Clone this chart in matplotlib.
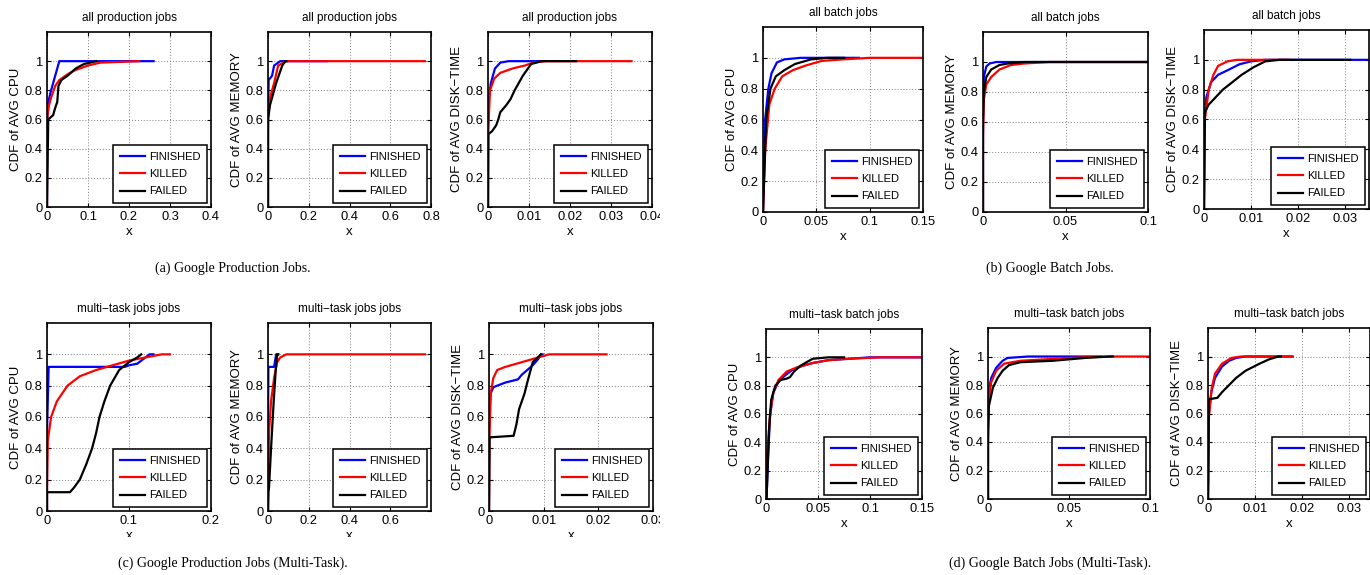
import matplotlib
matplotlib.use("Agg")
import matplotlib.pyplot as plt
from matplotlib.transforms import Bbox, TransformedBbox

plt.rcParams["font.family"] = ["Liberation Sans", "DejaVu Sans"]

W, H = 1370, 575

# ---------- data ----------
status_labels = ["FINISHED", "KILLED", "FAILED"]
status_colors = ["#0000ff", "#ff0000", "#000000"]

titles = ["all production jobs"] * 3 + ["all batch jobs"] * 3 + \
         ["multi\u2212task jobs jobs"] * 3 + ["multi\u2212task batch jobs"] * 3
ylabels = ["CDF of AVG CPU", "CDF of AVG MEMORY", "CDF of AVG DISK\u2212TIME"] * 4
xlims = [0.4, 0.8, 0.04, 0.15, 0.1, 0.035, 0.2, 0.8, 0.03, 0.15, 0.1, 0.0345]
xticks = [
    [0, 0.1, 0.2, 0.3, 0.4], [0, 0.2, 0.4, 0.6, 0.8], [0, 0.01, 0.02, 0.03, 0.04],
    [0, 0.05, 0.1, 0.15], [0, 0.05, 0.1], [0, 0.01, 0.02, 0.03],
    [0, 0.1, 0.2], [0, 0.2, 0.4, 0.6], [0, 0.01, 0.02, 0.03],
    [0, 0.05, 0.1, 0.15], [0, 0.05, 0.1], [0, 0.01, 0.02, 0.03],
]
captions = ["(a) Google Production Jobs.", "(b) Google Batch Jobs.",
            "(c) Google Production Jobs (Multi-Task).", "(d) Google Batch Jobs (Multi-Task)."]

# production, all jobs
prod_cpu_fin_x = [0, 0, 0.002, 0.008, 0.015, 0.02, 0.03, 0.26]
prod_cpu_fin_y = [0, 0.5, 0.7, 0.78, 0.85, 0.9, 1.0, 1.0]
prod_cpu_kil_x = [0, 0, 0.005, 0.01, 0.02, 0.03, 0.05, 0.07, 0.1, 0.13, 0.225]
prod_cpu_kil_y = [0, 0.6, 0.7, 0.75, 0.83, 0.87, 0.91, 0.94, 0.97, 0.99, 1.0]
prod_cpu_fail_x = [0, 0.003, 0.015, 0.02, 0.025, 0.028, 0.035, 0.05, 0.07, 0.09, 0.12]
prod_cpu_fail_y = [0, 0.6, 0.63, 0.68, 0.72, 0.83, 0.87, 0.9, 0.95, 0.98, 1.0]

prod_mem_fin_x = [0, 0, 0.003, 0.02, 0.03, 0.06, 0.29]
prod_mem_fin_y = [0, 0.5, 0.87, 0.9, 0.97, 1.0, 1.0]
prod_mem_kil_x = [0, 0, 0.01, 0.03, 0.05, 0.09, 0.77]
prod_mem_kil_y = [0, 0.65, 0.75, 0.85, 0.97, 1.0, 1.0]
prod_mem_fail_x = [0, 0, 0.01, 0.04, 0.07, 0.085, 0.09]
prod_mem_fail_y = [0, 0.6, 0.7, 0.85, 0.97, 1.0, 1.0]

prod_disk_fin_x = [0, 0, 0.0002, 0.0007, 0.0017, 0.003, 0.005, 0.013]
prod_disk_fin_y = [0, 0.5, 0.75, 0.85, 0.95, 0.99, 1, 1]
prod_disk_kil_x = [0, 0, 0.0005, 0.0015, 0.003, 0.006, 0.009, 0.011, 0.014, 0.035]
prod_disk_kil_y = [0, 0.5, 0.8, 0.88, 0.92, 0.95, 0.97, 0.99, 1, 1]
prod_disk_fail_x = [0, 0.0001, 0.001, 0.002, 0.0025, 0.003, 0.0045, 0.0055, 0.0065, 0.0085, 0.0105, 0.013, 0.0215]
prod_disk_fail_y = [0, 0.5, 0.52, 0.56, 0.6, 0.65, 0.7, 0.74, 0.8, 0.9, 0.98, 1, 1]

# batch, all jobs
batch_cpu_fin_x = [0, 0.002, 0.005, 0.008, 0.013, 0.02, 0.035, 0.09]
batch_cpu_fin_y = [0, 0.6, 0.8, 0.9, 0.97, 0.99, 1, 1]
batch_cpu_kil_x = [0, 0.002, 0.006, 0.011, 0.018, 0.028, 0.04, 0.055, 0.075, 0.1, 0.15]
batch_cpu_kil_y = [0, 0.4, 0.7, 0.8, 0.88, 0.92, 0.95, 0.98, 0.99, 1, 1]
batch_cpu_fail_x = [0, 0.003, 0.007, 0.012, 0.02, 0.03, 0.045, 0.06, 0.076]
batch_cpu_fail_y = [0, 0.6, 0.8, 0.88, 0.92, 0.96, 0.99, 1, 1]

batch_mem_fin_x = [0, 0, 0.0005, 0.002, 0.004, 0.008, 0.1]
batch_mem_fin_y = [0, 0.6, 0.9, 0.97, 0.99, 1, 1]
batch_mem_kil_x = [0, 0, 0.0005, 0.002, 0.005, 0.01, 0.017, 0.025, 0.04, 0.1]
batch_mem_kil_y = [0, 0.5, 0.75, 0.85, 0.9, 0.95, 0.98, 0.99, 1, 1]
batch_mem_fail_x = [0, 0, 0.0005, 0.002, 0.005, 0.01, 0.015, 0.025, 0.1]
batch_mem_fail_y = [0, 0.6, 0.8, 0.9, 0.95, 0.98, 0.99, 1, 1]

batch_disk_fin_x = [0, 0.0001, 0.0005, 0.0015, 0.003, 0.005, 0.0075, 0.01, 0.013, 0.035]
batch_disk_fin_y = [0, 0.6, 0.75, 0.85, 0.9, 0.93, 0.97, 0.99, 1, 1]
batch_disk_kil_x = [0, 0.0001, 0.001, 0.002, 0.003, 0.005, 0.007, 0.018]
batch_disk_kil_y = [0, 0.58, 0.8, 0.9, 0.96, 0.99, 1, 1]
batch_disk_fail_x = [0, 0.0002, 0.001, 0.0025, 0.004, 0.006, 0.008, 0.0105, 0.013, 0.016, 0.031]
batch_disk_fail_y = [0, 0.65, 0.7, 0.75, 0.8, 0.85, 0.9, 0.95, 0.99, 1, 1]

# production, multi-task
mt_prod_cpu_fin_x = [0, 0, 0.002, 0.095, 0.1, 0.11, 0.115, 0.12, 0.125, 0.13]
mt_prod_cpu_fin_y = [0, 0.5, 0.92, 0.92, 0.93, 0.94, 0.96, 0.98, 1, 1]
mt_prod_cpu_kil_x = [0, 0, 0.001, 0.005, 0.012, 0.025, 0.04, 0.06, 0.08, 0.1, 0.12, 0.14, 0.15]
mt_prod_cpu_kil_y = [0, 0.12, 0.45, 0.6, 0.7, 0.8, 0.86, 0.9, 0.93, 0.96, 0.98, 1, 1]
mt_prod_cpu_fail_x = [0, 0, 0.028, 0.033, 0.04, 0.048, 0.055, 0.06, 0.064, 0.07, 0.077, 0.088, 0.1, 0.11, 0.115]
mt_prod_cpu_fail_y = [0, 0.12, 0.12, 0.15, 0.2, 0.3, 0.4, 0.5, 0.6, 0.7, 0.8, 0.9, 0.95, 0.98, 1]

mt_prod_mem_fin_x = [0, 0, 0.002, 0.03, 0.04, 0.05]
mt_prod_mem_fin_y = [0, 0.5, 0.92, 0.92, 1, 1]
mt_prod_mem_kil_x = [0, 0, 0.005, 0.015, 0.03, 0.045, 0.06, 0.09, 0.77]
mt_prod_mem_kil_y = [0, 0.1, 0.5, 0.7, 0.85, 0.95, 0.98, 1, 1]
mt_prod_mem_fail_x = [0, 0.002, 0.005, 0.015, 0.028, 0.038, 0.045, 0.05]
mt_prod_mem_fail_y = [0, 0.12, 0.15, 0.4, 0.7, 0.9, 1, 1]

mt_prod_disk_fin_x = [0, 0, 0.0003, 0.0008, 0.0015, 0.003, 0.0053, 0.006, 0.007, 0.008, 0.009, 0.0095, 0.0098]
mt_prod_disk_fin_y = [0, 0.55, 0.75, 0.79, 0.8, 0.82, 0.84, 0.87, 0.9, 0.93, 0.97, 1, 1]
mt_prod_disk_kil_x = [0, 0.0001, 0.0003, 0.0008, 0.0015, 0.003, 0.005, 0.007, 0.009, 0.011, 0.0215]
mt_prod_disk_kil_y = [0, 0.48, 0.75, 0.85, 0.9, 0.92, 0.94, 0.96, 0.98, 1, 1]
mt_prod_disk_fail_x = [0, 0.0001, 0.0045, 0.005, 0.0055, 0.0065, 0.007, 0.008, 0.0095]
mt_prod_disk_fail_y = [0, 0.47, 0.48, 0.55, 0.65, 0.75, 0.82, 0.95, 1]

# batch, multi-task
mt_batch_cpu_fin_x = [0, 0.0005, 0.002, 0.004, 0.007, 0.012, 0.018, 0.025, 0.035, 0.045, 0.06, 0.08, 0.1, 0.15]
mt_batch_cpu_fin_y = [0, 0, 0.3, 0.6, 0.75, 0.83, 0.87, 0.91, 0.94, 0.96, 0.98, 0.99, 1, 1]
mt_batch_cpu_kil_x = [0, 0.001, 0.004, 0.007, 0.012, 0.02, 0.03, 0.045, 0.06, 0.08, 0.11, 0.15]
mt_batch_cpu_kil_y = [0, 0.3, 0.6, 0.75, 0.84, 0.9, 0.93, 0.96, 0.98, 0.99, 1, 1]
mt_batch_cpu_fail_x = [0, 0.0005, 0.003, 0.005, 0.009, 0.014, 0.02, 0.023, 0.027, 0.033, 0.04, 0.045, 0.06, 0.075]
mt_batch_cpu_fail_y = [0, 0, 0.5, 0.7, 0.8, 0.84, 0.85, 0.86, 0.9, 0.94, 0.97, 0.99, 1, 1]

mt_batch_mem_fin_x = [0, 0, 0.0003, 0.002, 0.005, 0.009, 0.012, 0.025, 0.07]
mt_batch_mem_fin_y = [0, 0.5, 0.75, 0.85, 0.92, 0.97, 0.99, 1, 1]
mt_batch_mem_kil_x = [0, 0, 0.0005, 0.002, 0.005, 0.01, 0.02, 0.035, 0.05, 0.075, 0.1]
mt_batch_mem_kil_y = [0, 0.5, 0.7, 0.82, 0.9, 0.95, 0.97, 0.98, 0.99, 1, 1]
mt_batch_mem_fail_x = [0, 0, 0.0005, 0.003, 0.006, 0.009, 0.013, 0.02, 0.04, 0.05, 0.06, 0.075, 0.077]
mt_batch_mem_fail_y = [0, 0.4, 0.65, 0.78, 0.85, 0.9, 0.94, 0.96, 0.97, 0.98, 0.99, 1, 1]

mt_batch_disk_fin_x = [0, 0.0002, 0.0007, 0.0015, 0.003, 0.0045, 0.006, 0.008, 0.018]
mt_batch_disk_fin_y = [0, 0.6, 0.75, 0.85, 0.93, 0.97, 0.99, 1, 1]
mt_batch_disk_kil_x = [0, 0.0002, 0.0008, 0.0015, 0.003, 0.005, 0.007, 0.018]
mt_batch_disk_kil_y = [0, 0.58, 0.78, 0.88, 0.95, 0.99, 1, 1]
mt_batch_disk_fail_x = [0, 0.0002, 0.002, 0.003, 0.0045, 0.006, 0.008, 0.011, 0.013, 0.015, 0.0155]
mt_batch_disk_fail_y = [0, 0.7, 0.71, 0.75, 0.8, 0.85, 0.9, 0.95, 0.98, 1, 1]

panels = [
    [(prod_cpu_fin_x, prod_cpu_fin_y), (prod_cpu_kil_x, prod_cpu_kil_y), (prod_cpu_fail_x, prod_cpu_fail_y)],
    [(prod_mem_fin_x, prod_mem_fin_y), (prod_mem_kil_x, prod_mem_kil_y), (prod_mem_fail_x, prod_mem_fail_y)],
    [(prod_disk_fin_x, prod_disk_fin_y), (prod_disk_kil_x, prod_disk_kil_y), (prod_disk_fail_x, prod_disk_fail_y)],
    [(batch_cpu_fin_x, batch_cpu_fin_y), (batch_cpu_kil_x, batch_cpu_kil_y), (batch_cpu_fail_x, batch_cpu_fail_y)],
    [(batch_mem_fin_x, batch_mem_fin_y), (batch_mem_kil_x, batch_mem_kil_y), (batch_mem_fail_x, batch_mem_fail_y)],
    [(batch_disk_fin_x, batch_disk_fin_y), (batch_disk_kil_x, batch_disk_kil_y), (batch_disk_fail_x, batch_disk_fail_y)],
    [(mt_prod_cpu_fin_x, mt_prod_cpu_fin_y), (mt_prod_cpu_kil_x, mt_prod_cpu_kil_y), (mt_prod_cpu_fail_x, mt_prod_cpu_fail_y)],
    [(mt_prod_mem_fin_x, mt_prod_mem_fin_y), (mt_prod_mem_kil_x, mt_prod_mem_kil_y), (mt_prod_mem_fail_x, mt_prod_mem_fail_y)],
    [(mt_prod_disk_fin_x, mt_prod_disk_fin_y), (mt_prod_disk_kil_x, mt_prod_disk_kil_y), (mt_prod_disk_fail_x, mt_prod_disk_fail_y)],
    [(mt_batch_cpu_fin_x, mt_batch_cpu_fin_y), (mt_batch_cpu_kil_x, mt_batch_cpu_kil_y), (mt_batch_cpu_fail_x, mt_batch_cpu_fail_y)],
    [(mt_batch_mem_fin_x, mt_batch_mem_fin_y), (mt_batch_mem_kil_x, mt_batch_mem_kil_y), (mt_batch_mem_fail_x, mt_batch_mem_fail_y)],
    [(mt_batch_disk_fin_x, mt_batch_disk_fin_y), (mt_batch_disk_kil_x, mt_batch_disk_kil_y), (mt_batch_disk_fail_x, mt_batch_disk_fail_y)],
]

# ---------- layout (pixel boxes: left, top, right, bottom) ----------
boxes = [
    (47, 32, 211, 207), (268, 32, 431, 207), (488, 32, 652, 207),
    (763, 27, 923, 212), (983, 32, 1148, 212), (1204, 30, 1369, 209),
    (47, 323, 211, 511), (268, 323, 431, 511), (489, 323, 653, 511),
    (766, 329, 922, 499), (988, 328, 1150, 499), (1208, 328, 1370, 499),
]
caption_pos = [(233, 268), (1050, 268), (233, 563), (1050, 563)]


def px_rect(x0, y0, x1, y1):
    return [x0 / W, 1 - y1 / H, (x1 - x0) / W, (y1 - y0) / H]


fig = plt.figure(figsize=(W / 100, H / 100), dpi=100, facecolor="white")

for i, box in enumerate(boxes):
    ax = fig.add_axes(px_rect(*box))
    for (xs, ys), lab, col in zip(panels[i], status_labels, status_colors):
        ax.plot(xs, ys, color=col, lw=1.6, label=lab)
    ax.set_xlim(0, xlims[i])
    ax.set_ylim(0, 1.2)
    ax.set_xticks(xticks[i])
    ax.set_xticklabels(["%g" % t for t in xticks[i]])
    ax.set_yticks([0, 0.2, 0.4, 0.6, 0.8, 1])
    ax.set_yticklabels(["0", "0.2", "0.4", "0.6", "0.8", "1"])
    ax.tick_params(direction="in", top=True, right=True, length=3, labelsize=9.3, pad=3)
    ax.grid(True, linestyle=(0, (1, 2)), color="0.5", lw=0.7)
    for sp in ax.spines.values():
        sp.set_linewidth(1.2)
    ax.set_title(titles[i], fontsize=8.5, pad=8)
    ax.set_ylabel(ylabels[i], fontsize=9.5, labelpad=2)
    xl = ax.set_xlabel("x", fontsize=9.5, labelpad=2)
    if i in (6, 7, 8):
        # the x label is cut off by the sub-figure edge in the source
        xl.set_clip_box(TransformedBbox(Bbox([[0, 1 - 537 / H], [1, 1]]), fig.transFigure))
        xl.set_clip_on(True)
    if i in (2, 8):
        last = ax.get_xticklabels()[-1]
        last.set_clip_box(TransformedBbox(Bbox([[0, 0], [660 / W, 1]]), fig.transFigure))
        last.set_clip_on(True)
    leg = ax.legend(loc="lower right", bbox_to_anchor=(1, 0), borderaxespad=0.35,
                    fontsize=8, fancybox=False, framealpha=1, edgecolor="black",
                    handlelength=2.2, handletextpad=0.4, borderpad=0.6,
                    labelspacing=0.65)
    leg.get_frame().set_linewidth(1.1)
    leg.get_frame().set_boxstyle("square", pad=0)

for (cx, cy), txt in zip(caption_pos, captions):
    fig.text(cx / W, 1 - cy / H, txt, ha="center", va="center", fontsize=10,
             family=["Liberation Serif", "DejaVu Serif"])

fig.savefig("out.png", dpi=100, facecolor="white")
